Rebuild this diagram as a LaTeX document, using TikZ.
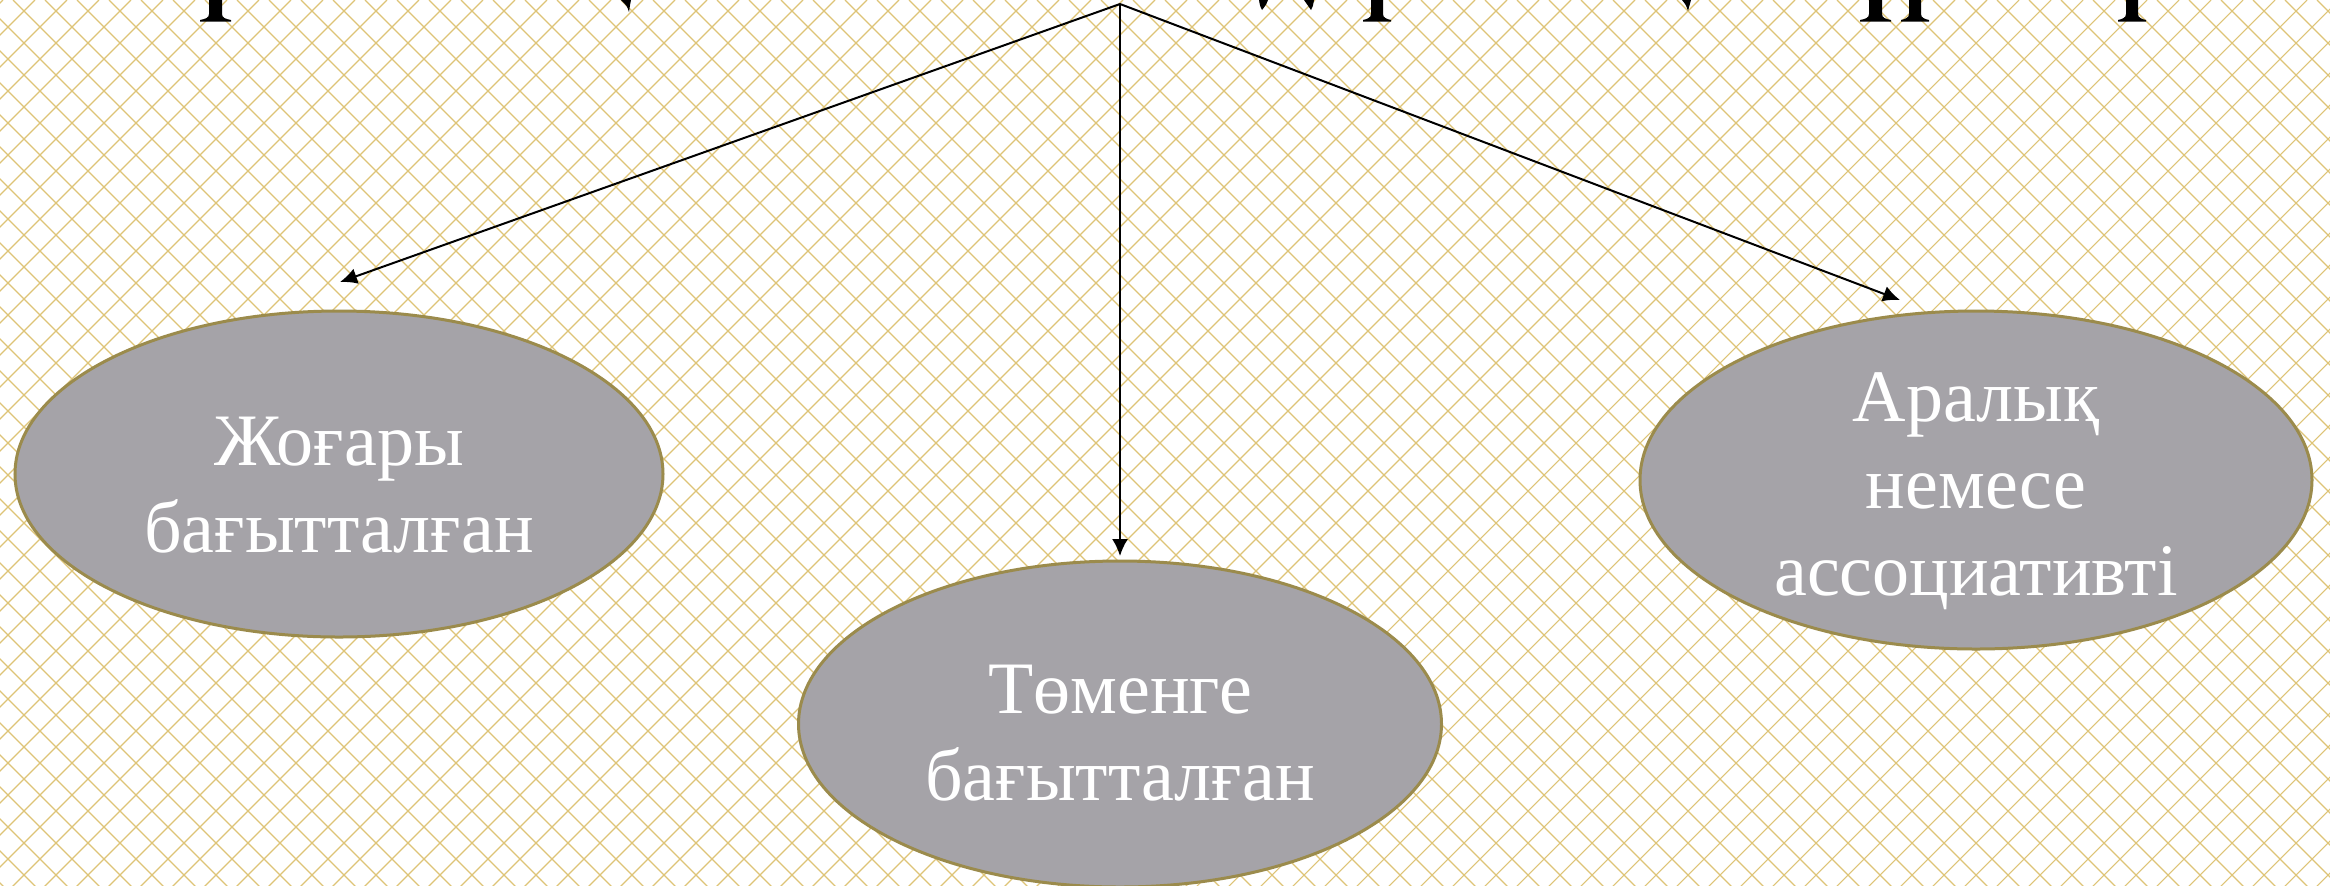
\documentclass[tikz,border=0pt]{standalone}
\usepackage{fontspec}
\setmainfont{Liberation Serif}
\usetikzlibrary{arrows.meta,shapes.geometric}
\definecolor{hatch}{RGB}{222,196,118}
\definecolor{ovalfill}{RGB}{165,163,168}
\definecolor{ovaledge}{RGB}{155,139,76}
\tikzset{
  oval/.style={ellipse, draw=ovaledge, line width=1.5pt, fill=ovalfill, inner sep=0pt},
  ovaltext/.style={text=white, align=center, inner sep=0pt, font=\fontsize{37pt}{43.5pt}\selectfont},
  conn/.style={line width=1pt, -{Latex[length=8.5pt,width=8pt]}},
  hatchline/.style={hatch, line width=0.55pt},
  glyph/.style={fill=black}
}
\begin{document}
\begin{tikzpicture}[x=0.5pt,y=-0.5pt]
\useasboundingbox (0,0) rectangle (2330,885);
\fill[white] (0,0) rectangle (2330,885);
\begin{scope}
\clip (0,0) rectangle (2330,885);
\foreach \c in {3,35,...,3250} { \draw[hatchline] (\c,0) -- ({\c-900},900); }
\foreach \c in {-915,-883,...,2340} { \draw[hatchline] (\c,0) -- ({\c+900},900); }
% fragments of the cut-off title
\fill[glyph] (209,0) -- (209,14) .. controls (209,18) and (205,19) .. (200,20) -- (200,21.5) -- (231,21.5) -- (231,20) .. controls (226,19) and (222,18) .. (222,14) -- (222,0) -- cycle;
\fill[glyph] (1371,0) -- (1371,14) .. controls (1371,18) and (1367,19) .. (1363,20) -- (1363,21.5) -- (1391,21.5) -- (1391,20) .. controls (1387,19) and (1383,18) .. (1383,14) -- (1383,0) -- cycle;
\fill[glyph] (1869,0) -- (1869,14) .. controls (1869,18) and (1865,19) .. (1860,20) -- (1860,21.5) -- (1891,21.5) -- (1891,20) .. controls (1886,19) and (1882,18) .. (1882,14) -- (1882,0) -- cycle;
\fill[glyph] (1909,0) -- (1909,14) .. controls (1909,18) and (1905,19) .. (1901,20) -- (1901,21.5) -- (1929,21.5) -- (1929,20) .. controls (1925,19) and (1921,18) .. (1921,14) -- (1921,0) -- cycle;
\fill[glyph] (2126,0) -- (2126,14) .. controls (2126,18) and (2122,19) .. (2118,20) -- (2118,21.5) -- (2146,21.5) -- (2146,20) .. controls (2142,19) and (2138,18) .. (2138,14) -- (2138,0) -- cycle;
\fill[glyph] (621,0) -- (631,0) .. controls (630,5) .. (629,12) .. controls (627,6) .. (621,0) -- cycle;
\fill[glyph] (1259,0) -- (1268,0) .. controls (1266,5) .. (1262,10) .. controls (1260,6) .. (1259,0) -- cycle;
\fill[glyph] (1304,0) -- (1314,0) .. controls (1313,6) .. (1311,10) .. controls (1308,5) .. (1304,0) -- cycle;
\fill[glyph] (1682,0) -- (1691,0) .. controls (1690,5) .. (1688,11) .. controls (1686,5) .. (1682,0) -- cycle;
\end{scope}

\coordinate (top) at (1120,4);
\node[oval, minimum width=324pt, minimum height=163pt] (up) at (339,474) {};
\node[oval, minimum width=321.5pt, minimum height=163pt] (down) at (1120,724) {};
\node[oval, minimum width=336pt, minimum height=169pt] (mid) at (1976,480) {};
\node[ovaltext] (upT) at (339,485) {Жоғары\\бағытталған};
\node[ovaltext] (downT) at (1120,733) {Төменге\\бағытталған};
\node[ovaltext] (midT) at (1976,491) {Аралық\\немесе\\ассоциативті};

\coordinate (tipL) at (340,282);
\coordinate (tipM) at (1120,556);
\coordinate (tipR) at (1900,300);
\draw[conn] (top) -- (tipL);
\draw[conn] (top) -- (tipM);
\draw[conn] (top) -- (tipR);
\end{tikzpicture}
\end{document}
